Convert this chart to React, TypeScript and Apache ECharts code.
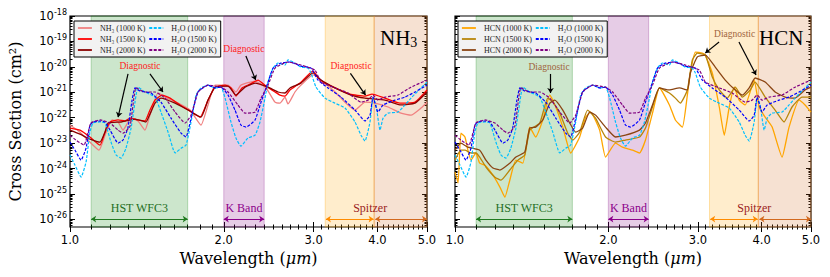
import React, { useEffect, useRef } from 'react';
import * as echarts from 'echarts';

// ---------- axis ticks ----------
const xMajor = [1, 2, 3, 4, 5];
const xMinor = [1.1, 1.2, 1.3, 1.4, 1.5, 1.6, 1.7, 1.8, 1.9, 2.1, 2.2, 2.3, 2.4, 2.5, 2.6, 2.7, 2.8, 2.9, 3.1, 3.2, 3.3, 3.4, 3.5, 3.6, 3.7, 3.8, 3.9, 4.1, 4.2, 4.3, 4.4, 4.5, 4.6, 4.7, 4.8, 4.9];
const yMajor = [1e-26, 1e-25, 1e-24, 1e-23, 1e-22, 1e-21, 1e-20, 1e-19, 1e-18];
const yMinor: number[] = [];
for (let e = -27; e <= -19; e++) for (let k = 2; k <= 9; k++) { const v = k * Math.pow(10, e); if (v > 5e-27 && v < 1e-18) yMinor.push(v); }
const X_MIN = 1, X_MAX = 5, Y_MIN = 5e-27, Y_MAX = 1e-18;

// ---------- data: [wavelength (um), log10 cross section (cm^2)] ----------
const h2o1000: number[][] = [[1.000,-23.47],[1.023,-23.87],[1.051,-24.34],[1.075,-23.75],[1.094,-22.57],[1.109,-22.21],[1.145,-22.17],[1.171,-22.21],[1.203,-22.96],[1.231,-23.47],[1.259,-23.59],[1.287,-23.20],[1.317,-22.41],[1.347,-21.11],[1.359,-20.80],[1.402,-20.99],[1.467,-21.19],[1.507,-21.78],[1.556,-22.57],[1.606,-23.39],[1.650,-23.20],[1.687,-23.08],[1.726,-22.17],[1.765,-21.11],[1.805,-20.83],[1.863,-20.72],[1.923,-20.83],[1.975,-20.80],[2.012,-21.23],[2.066,-22.17],[2.113,-22.80],[2.161,-23.12],[2.231,-22.80],[2.303,-22.69],[2.355,-22.17],[2.409,-21.23],[2.442,-20.60],[2.498,-20.05],[2.554,-19.85],[2.636,-19.93],[2.672,-19.73],[2.757,-19.85],[2.833,-20.01],[2.924,-20.05],[2.964,-20.24],[3.032,-20.80],[3.157,-21.23],[3.303,-21.43],[3.455,-21.62],[3.614,-22.17],[3.713,-22.69],[3.781,-22.92],[3.867,-22.17],[3.920,-21.23],[3.973,-21.50],[4.046,-22.49],[4.101,-22.02],[4.195,-21.82],[4.387,-21.78],[4.528,-21.50],[4.652,-21.23],[4.867,-20.83],[5.000,-20.60]];
const h2o1500: number[][] = [[1.000,-22.96],[1.023,-23.28],[1.051,-23.67],[1.075,-23.20],[1.094,-22.29],[1.109,-22.17],[1.145,-22.13],[1.171,-22.17],[1.198,-22.49],[1.242,-23.00],[1.270,-22.88],[1.298,-22.41],[1.323,-21.31],[1.341,-20.83],[1.371,-20.95],[1.440,-21.03],[1.507,-21.39],[1.577,-22.02],[1.650,-22.61],[1.687,-22.76],[1.726,-22.02],[1.781,-20.99],[1.863,-20.72],[1.923,-20.83],[1.975,-20.80],[2.039,-21.11],[2.104,-21.70],[2.161,-22.29],[2.211,-22.37],[2.303,-22.09],[2.366,-21.39],[2.442,-20.60],[2.498,-20.05],[2.589,-19.85],[2.696,-19.81],[2.833,-19.97],[2.964,-20.05],[3.059,-20.52],[3.200,-20.83],[3.393,-21.19],[3.614,-21.70],[3.781,-22.13],[3.867,-21.90],[3.920,-21.19],[4.009,-21.78],[4.101,-21.50],[4.328,-21.31],[4.528,-21.19],[4.737,-20.99],[5.000,-20.72]];
const h2o2000: number[][] = [[1.000,-22.69],[1.027,-22.88],[1.065,-23.08],[1.099,-22.21],[1.145,-22.09],[1.198,-22.21],[1.242,-22.49],[1.270,-22.61],[1.311,-22.33],[1.347,-20.83],[1.402,-20.99],[1.467,-20.99],[1.535,-21.23],[1.606,-21.78],[1.680,-22.21],[1.726,-21.90],[1.781,-20.99],[1.863,-20.72],[1.975,-20.80],[2.039,-20.99],[2.132,-21.50],[2.201,-21.82],[2.303,-21.78],[2.366,-21.23],[2.442,-20.72],[2.520,-20.05],[2.672,-19.81],[2.833,-19.93],[3.018,-20.13],[3.101,-20.60],[3.303,-20.83],[3.502,-21.03],[3.713,-21.39],[3.832,-21.31],[3.920,-21.11],[4.009,-21.31],[4.138,-21.19],[4.387,-21.11],[4.652,-20.80],[5.000,-20.52]];
const nh3_1000: number[][] = [[1.000,-22.29],[1.046,-22.57],[1.094,-22.96],[1.140,-23.28],[1.171,-22.69],[1.209,-22.09],[1.242,-22.17],[1.270,-22.49],[1.317,-22.02],[1.359,-22.13],[1.402,-22.49],[1.434,-21.90],[1.487,-21.03],[1.535,-21.19],[1.628,-21.43],[1.718,-21.70],[1.805,-22.29],[1.863,-21.50],[1.923,-20.72],[2.039,-20.72],[2.113,-20.99],[2.161,-20.72],[2.303,-20.56],[2.420,-20.83],[2.520,-21.39],[2.577,-21.43],[2.636,-21.19],[2.672,-21.46],[2.757,-20.99],[2.833,-20.72],[2.991,-20.32],[3.101,-20.52],[3.303,-20.99],[3.455,-21.39],[3.614,-21.70],[3.781,-21.39],[3.955,-21.43],[4.195,-21.58],[4.447,-21.82],[4.652,-21.90],[4.867,-21.62],[5.000,-21.39]];
const nh3_1500: number[][] = [[1.000,-22.41],[1.046,-22.49],[1.094,-22.76],[1.145,-23.08],[1.171,-22.57],[1.198,-22.17],[1.242,-22.09],[1.281,-22.13],[1.311,-22.02],[1.359,-22.09],[1.402,-22.13],[1.434,-21.70],[1.467,-21.31],[1.514,-21.11],[1.570,-21.23],[1.642,-21.50],[1.718,-21.74],[1.797,-21.98],[1.863,-21.31],[1.923,-20.80],[2.012,-20.72],[2.066,-20.83],[2.113,-21.15],[2.171,-20.83],[2.251,-20.68],[2.334,-20.52],[2.420,-20.76],[2.520,-20.99],[2.577,-21.11],[2.636,-21.15],[2.696,-20.91],[2.820,-20.64],[2.991,-20.17],[3.087,-20.52],[3.303,-20.83],[3.534,-21.07],[3.781,-21.15],[3.902,-21.07],[4.138,-21.23],[4.427,-21.43],[4.737,-21.39],[5.000,-20.91]];
const nh3_2000: number[][] = [[1.000,-22.49],[1.046,-22.65],[1.094,-22.84],[1.145,-22.96],[1.171,-22.57],[1.187,-22.21],[1.259,-22.17],[1.341,-22.06],[1.408,-22.17],[1.434,-21.86],[1.467,-21.43],[1.507,-21.23],[1.606,-21.43],[1.703,-21.70],[1.805,-21.98],[1.863,-21.31],[1.923,-20.80],[2.039,-20.76],[2.113,-21.11],[2.201,-20.80],[2.303,-20.64],[2.442,-20.80],[2.554,-20.99],[2.636,-21.03],[2.696,-20.83],[2.833,-20.64],[2.991,-20.24],[3.101,-20.52],[3.303,-20.83],[3.550,-21.11],[3.781,-21.23],[4.138,-21.31],[4.447,-21.50],[4.737,-21.43],[5.000,-20.99]];
const hcn1000: number[][] = [[1.000,-24.14],[1.014,-24.57],[1.027,-22.61],[1.046,-22.76],[1.060,-23.28],[1.075,-23.67],[1.099,-23.39],[1.118,-23.79],[1.145,-23.87],[1.187,-24.26],[1.225,-24.73],[1.253,-25.13],[1.281,-24.46],[1.317,-23.67],[1.359,-23.79],[1.402,-22.37],[1.440,-22.76],[1.487,-22.09],[1.535,-21.11],[1.577,-21.58],[1.628,-22.37],[1.687,-23.39],[1.757,-22.76],[1.805,-21.98],[1.846,-21.78],[1.923,-22.49],[1.975,-23.55],[2.066,-23.00],[2.132,-23.16],[2.231,-23.28],[2.303,-23.39],[2.366,-22.88],[2.442,-21.82],[2.520,-20.83],[2.636,-21.50],[2.708,-22.09],[2.795,-22.37],[2.859,-21.11],[2.898,-20.24],[2.964,-19.42],[3.059,-19.46],[3.101,-19.54],[3.200,-20.24],[3.303,-21.58],[3.378,-22.69],[3.455,-21.58],[3.534,-20.80],[3.614,-21.31],[3.713,-21.50],[3.867,-20.52],[3.955,-21.58],[4.064,-21.98],[4.195,-22.37],[4.387,-23.55],[4.528,-22.37],[4.737,-21.31],[4.867,-21.50],[5.000,-21.78]];
const hcn1500: number[][] = [[1.000,-23.67],[1.027,-23.28],[1.046,-23.28],[1.075,-23.39],[1.099,-23.39],[1.118,-23.55],[1.150,-23.94],[1.198,-24.34],[1.231,-24.46],[1.281,-24.06],[1.329,-23.67],[1.371,-23.47],[1.402,-22.49],[1.467,-22.21],[1.521,-21.23],[1.556,-21.39],[1.606,-21.82],[1.665,-22.61],[1.703,-22.88],[1.757,-22.57],[1.821,-21.70],[1.888,-22.02],[1.975,-22.76],[2.066,-22.96],[2.161,-22.88],[2.303,-22.76],[2.366,-22.41],[2.442,-21.58],[2.520,-20.83],[2.636,-21.03],[2.708,-21.23],[2.770,-21.43],[2.859,-20.91],[2.924,-19.73],[2.991,-19.46],[3.101,-19.54],[3.200,-20.40],[3.303,-20.91],[3.424,-21.23],[3.550,-20.80],[3.664,-21.19],[3.798,-20.91],[3.884,-20.60],[4.064,-21.19],[4.251,-21.70],[4.427,-22.17],[4.589,-21.58],[4.801,-21.19],[5.000,-21.19]];
const hcn2000: number[][] = [[1.000,-23.28],[1.027,-23.00],[1.060,-23.16],[1.118,-23.28],[1.150,-23.67],[1.187,-23.98],[1.225,-24.06],[1.281,-23.79],[1.317,-23.55],[1.371,-23.35],[1.402,-22.41],[1.440,-22.37],[1.487,-22.09],[1.535,-21.43],[1.570,-21.31],[1.628,-21.70],[1.680,-22.21],[1.726,-22.57],[1.781,-22.41],[1.838,-21.78],[1.888,-21.90],[1.975,-22.37],[2.066,-22.76],[2.161,-22.69],[2.303,-22.49],[2.366,-22.21],[2.442,-21.50],[2.520,-20.83],[2.636,-20.91],[2.757,-20.83],[2.859,-20.91],[2.898,-20.24],[2.991,-19.61],[3.101,-19.54],[3.243,-20.01],[3.393,-20.52],[3.550,-20.91],[3.664,-21.11],[3.781,-20.83],[3.884,-20.44],[4.064,-20.60],[4.251,-20.99],[4.447,-21.19],[4.652,-21.23],[4.867,-20.91],[5.000,-20.80]];

// instrument bands (wavelength, um)
const hstBand = [1.1, 1.7];
const kBand = [2.0, 2.4];
const spitzer1 = [3.16, 3.94];
const spitzer2 = [3.94, 5.0];

const SERIF = 'Liberation Serif';
const SANS = 'DejaVu Sans';
const pw = (l: number) => Math.pow(10, l);

function lineSeries(name: string, pairs: number[][], color: string, dashed: boolean, g: number) {
  return {
    type: 'line', name, xAxisIndex: g * 4, yAxisIndex: g * 4,
    data: pairs.map(([w, l]) => [w, pw(l)]),
    symbol: 'none', showSymbol: false, smooth: 0.15, animation: false,
    lineStyle: { color, width: dashed ? 1.2 : 1.3, type: dashed ? [3, 1.5] : 'solid' },
    itemStyle: { color }, z: dashed ? 3 : 2, silent: true,
  };
}

function xAxesFor(g: number) {
  const base: any = { type: 'log', gridIndex: g, min: X_MIN, max: X_MAX, axisLine: { show: false }, splitLine: { show: false }, minorTick: { show: false } };
  const tl = { color: '#000', width: 1 };
  return [
    { ...base, position: 'bottom', axisTick: { show: true, inside: true, length: 5, customValues: xMajor, lineStyle: tl },
      axisLabel: { show: true, customValues: xMajor, formatter: (v: number) => v.toFixed(1), margin: 7, color: '#000', fontFamily: SANS, fontSize: 11.5 },
      name: 'Wavelength ({i|μm})', nameLocation: 'middle', nameGap: 21,
      nameTextStyle: { fontFamily: 'DejaVu Serif', fontSize: 16, color: '#000', rich: { i: { fontFamily: 'DejaVu Serif', fontStyle: 'italic', fontSize: 16, color: '#000' } } } },
    { ...base, position: 'bottom', axisTick: { show: true, inside: true, length: 2.5, customValues: xMinor, lineStyle: tl }, axisLabel: { show: false } },
    { ...base, position: 'top', axisTick: { show: true, inside: true, length: 5, customValues: xMajor, lineStyle: tl }, axisLabel: { show: false } },
    { ...base, position: 'top', axisTick: { show: true, inside: true, length: 2.5, customValues: xMinor, lineStyle: tl }, axisLabel: { show: false } },
  ];
}

function yAxesFor(g: number, labels: boolean) {
  const base: any = { type: 'log', gridIndex: g, min: Y_MIN, max: Y_MAX, axisLine: { show: false }, splitLine: { show: false }, minorTick: { show: false } };
  const tl = { color: '#000', width: 1 };
  const main: any = { ...base, position: 'left', axisTick: { show: true, inside: true, length: 5, customValues: yMajor, lineStyle: tl },
    axisLabel: { show: labels, customValues: yMajor, margin: 3,
      formatter: (v: number) => `{b|10}{s|${Math.round(Math.log10(v))}}`,
      rich: { b: { fontFamily: SANS, fontSize: 11.5, color: '#000' }, s: { fontFamily: SANS, fontSize: 8, color: '#000', padding: [0, 0, 7, 0] } } } };
  if (labels) {
    main.name = 'Cross Section (cm²)'; main.nameLocation = 'middle'; main.nameGap = 47; main.nameRotate = 90;
    main.nameTextStyle = { fontFamily: 'DejaVu Serif', fontSize: 16, color: '#000' };
  }
  return [
    main,
    { ...base, position: 'left', axisTick: { show: true, inside: true, length: 2.5, customValues: yMinor, lineStyle: tl }, axisLabel: { show: false } },
    { ...base, position: 'right', axisTick: { show: true, inside: true, length: 5, customValues: yMajor, lineStyle: tl }, axisLabel: { show: false } },
    { ...base, position: 'right', axisTick: { show: true, inside: true, length: 2.5, customValues: yMinor, lineStyle: tl }, axisLabel: { show: false } },
  ];
}

function textPt(name: string, w: number, l: number, color: string, fontSize: number, extra: any = {}) {
  return { name, coord: [w, pw(l)], label: { show: true, position: 'inside', formatter: '{b}', color, fontSize, fontFamily: SERIF, ...extra } };
}
function arrow(w1: number, l1: number, w2: number, l2: number, color = '#000', both = false, width = 1.2, size = 5) {
  return [
    { coord: [w1, pw(l1)], symbol: both ? 'arrow' : 'none', symbolSize: size, lineStyle: { color, width, type: 'solid' } },
    { coord: [w2, pw(l2)], symbol: 'arrow', symbolSize: size, lineStyle: { color, width, type: 'solid' } },
  ];
}

function annot(g: number, diagColor: string, diag: number[][], diagArrows: any[], big: any) {
  return {
    type: 'line', name: '_annot' + g, xAxisIndex: g * 4, yAxisIndex: g * 4, data: [], silent: true, animation: false,
    markArea: {
      silent: true,
      data: [
        [{ xAxis: hstBand[0], itemStyle: { color: 'rgba(0,128,0,0.2)', borderColor: 'rgba(0,128,0,0.25)', borderWidth: 1 } }, { xAxis: hstBand[1] }],
        [{ xAxis: kBand[0], itemStyle: { color: 'rgba(128,0,128,0.2)', borderColor: 'rgba(128,0,128,0.25)', borderWidth: 1 } }, { xAxis: kBand[1] }],
        [{ xAxis: spitzer1[0], itemStyle: { color: 'rgba(255,165,0,0.2)', borderColor: 'rgba(255,165,0,0.3)', borderWidth: 1 } }, { xAxis: spitzer1[1] }],
        [{ xAxis: spitzer2[0], itemStyle: { color: 'rgba(210,105,30,0.2)', borderColor: 'rgba(230,140,60,0.5)', borderWidth: 1 } }, { xAxis: spitzer2[1] }],
      ],
    },
    markLine: {
      silent: true, label: { show: false }, emphasis: { disabled: true },
      data: [
        arrow(hstBand[0], -25.99, hstBand[1], -25.99, '#1f7a1f', true, 1.2, 5),
        arrow(kBand[0], -25.99, kBand[1], -25.99, '#8b008b', true, 1.2, 5),
        arrow(spitzer1[0] + 0.01, -25.99, spitzer1[1] - 0.01, -25.99, '#ff8c00', true, 1.2, 5),
        arrow(spitzer2[0] + 0.02, -25.99, spitzer2[1], -25.99, '#d2691e', true, 1.2, 5),
        ...diagArrows,
      ],
    },
    markPoint: {
      silent: true, symbol: 'circle', symbolSize: 0, animation: false,
      data: [
        textPt('HST WFC3', 1.367, -25.56, '#1f6f1f', 12),
        textPt('K Band', 2.19, -25.56, '#8b008b', 12),
        textPt('Spitzer', 3.87, -25.56, '#9b1c1c', 12),
        ...diag.map((d) => textPt('Diagnostic', d[0], d[1], diagColor, 9.5)),
        big,
      ],
    },
  };
}

function bigLabel(main: string, sub: string, w: number, l: number) {
  return {
    name: main, coord: [w, pw(l)],
    label: { show: true, position: 'inside', formatter: sub ? `{a|${main}}{s|${sub}}` : `{a|${main}}`,
      rich: { a: { fontFamily: SERIF, fontSize: 21, color: '#000' }, s: { fontFamily: SERIF, fontSize: 14, color: '#000', padding: [9, 0, 0, 0] } } },
  };
}

function legendFor(left: number, names: string[]) {
  return {
    show: true, orient: 'vertical', left, top: 21, height: 40, padding: [3, 4, 3, 3], itemGap: 3,
    itemWidth: 14, itemHeight: 8, data: names, selectedMode: false,
    backgroundColor: '#f2f2f2', borderColor: '#000', borderWidth: 1, borderRadius: 0,
    lineStyle: { width: 1.8 },
    itemStyle: { color: 'rgba(0,0,0,0)', borderColor: 'rgba(0,0,0,0)', borderWidth: 0, opacity: 0 },
    textStyle: { fontFamily: SERIF, fontSize: 8, color: '#222', width: 58, padding: [0, 0, 0, 3] },
  };
}

const N1 = 'NH₃ (1000 K)', N2 = 'NH₃ (1500 K)', N3 = 'NH₃ (2000 K)';
const W1 = 'H₂O (1000 K)', W2 = 'H₂O (1500 K)', W3 = 'H₂O (2000 K)';
const C1 = 'HCN (1000 K)', C2 = 'HCN (1500 K)', C3 = 'HCN (2000 K)';

function buildOption() {
  const series: any[] = [
    annot(0, '#ff1a1a', [[1.371, -19.97], [2.19, -19.30], [3.55, -19.97]], [
      arrow(1.299, -20.28, 1.242, -21.98), arrow(1.434, -20.28, 1.521, -20.99),
      arrow(2.21, -19.57, 2.31, -20.52), arrow(3.54, -20.26, 3.79, -21.11),
    ], bigLabel('NH', '3', 4.4, -18.87)),
    annot(1, '#a0643c', [[1.53, -20.0], [3.54, -18.71]], [
      arrow(1.54, -20.28, 1.54, -21.03), arrow(3.30, -19.02, 3.10, -19.46), arrow(3.61, -19.02, 3.90, -20.32),
    ], bigLabel('HCN', '', 4.37, -18.85)),
    lineSeries(N1, nh3_1000, '#f08080', false, 0),
    lineSeries(N2, nh3_1500, '#ff0000', false, 0),
    lineSeries(N3, nh3_2000, '#8b0000', false, 0),
    lineSeries(W1, h2o1000, '#00bfff', true, 0),
    lineSeries(W2, h2o1500, '#0000ff', true, 0),
    lineSeries(W3, h2o2000, '#800080', true, 0),
    lineSeries(C1, hcn1000, '#ffa500', false, 1),
    lineSeries(C2, hcn1500, '#b8860b', false, 1),
    lineSeries(C3, hcn2000, '#8b4513', false, 1),
    lineSeries(W1, h2o1000, '#00bfff', true, 1),
    lineSeries(W2, h2o1500, '#0000ff', true, 1),
    lineSeries(W3, h2o2000, '#800080', true, 1),
  ];
  return {
    animation: false,
    backgroundColor: '#ffffff',
    grid: [
      { left: 70, top: 16, width: 357, height: 211, show: true, borderColor: '#000', borderWidth: 1.2, backgroundColor: 'transparent' },
      { left: 455, top: 16, width: 356, height: 211, show: true, borderColor: '#000', borderWidth: 1.2, backgroundColor: 'transparent' },
    ],
    xAxis: [...xAxesFor(0), ...xAxesFor(1)],
    yAxis: [...yAxesFor(0, true), ...yAxesFor(1, false)],
    legend: [legendFor(74, [N1, N2, N3, W1, W2, W3]), legendFor(458, [C1, C2, C3, W1, W2, W3])],
    series,
  };
}

export default function App() {
  const ref = useRef<HTMLDivElement>(null);
  useEffect(() => {
    if (!ref.current) return;
    const chart = echarts.init(ref.current, null, { renderer: 'svg' });
    chart.setOption(buildOption() as any);
    return () => chart.dispose();
  }, []);
  return <div ref={ref} style={{ position: 'fixed', left: 0, top: 0, width: 830, height: 277, background: '#fff' }} />;
}
